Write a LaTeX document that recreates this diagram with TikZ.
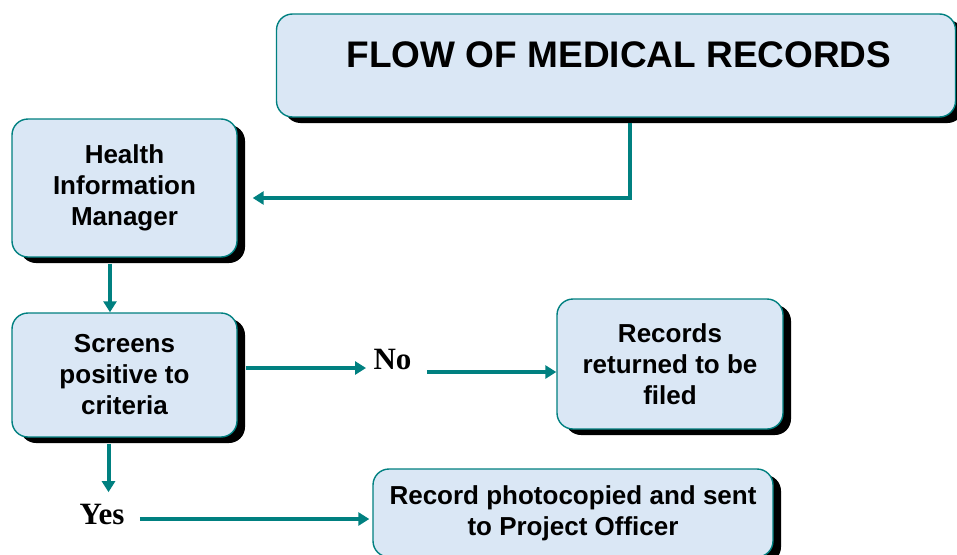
\documentclass[tikz,border=0pt]{standalone}
\usepackage{fontspec}
\setmainfont{Liberation Sans}
\newfontfamily\answerfont{Liberation Serif}
\usetikzlibrary{arrows.meta,shadows}

\definecolor{flowteal}{RGB}{0,128,128}
\definecolor{cardblue}{RGB}{218,231,245}

\tikzset{
  card/.style={draw=flowteal, line width=1.4pt, fill=cardblue, rounded corners=16pt,
    general shadow={fill=black, shadow xshift=8pt, shadow yshift=-6pt},
    align=center, inner sep=0pt, font=\fontsize{26}{31}\selectfont\bfseries},
  link/.style={draw=flowteal, line width=4pt, -{Triangle[length=11pt,width=13pt]}},
  answer/.style={font=\answerfont\fontsize{31}{36}\selectfont\bfseries},
}

\begin{document}
\begin{tikzpicture}[x=1pt,y=-1pt]
  \clip (0,0) rectangle (957,554);

  % boxes
  \node[card, minimum width=679pt, minimum height=103pt] (titlebox) at (616,65.5) {};
  \node[font=\fontsize{37}{44}\selectfont\bfseries] (title) at (619,55) {FLOW OF MEDICAL RECORDS};

  \node[card, minimum width=225pt, minimum height=138pt] (him) at (124.5,188) {Health\\Information\\Manager};
  \node[card, minimum width=225pt, minimum height=124pt] (screen) at (124.5,375) {Screens\\positive to\\criteria};
  \node[card, minimum width=226pt, minimum height=130pt] (filed) at (670,364) {Records\\returned to be\\filed};
  \node[card, minimum width=400pt, minimum height=88pt] (copy) at (573,513) {Record photocopied and sent\\to Project Officer};

  % decisions
  \node[answer] (no) at (392.5,359) {No};
  \node[answer] (yes) at (102,514) {Yes};

  % connectors
  \draw[link] ([shift={(14pt,-5pt)}]titlebox.south) |- ([shift={(15pt,-10pt)}]him.east);
  \draw[link] ([shift={(-14.5pt,-6pt)}]him.south) -- ([xshift=-14.5pt]screen.north);
  \draw[link] ([shift={(8pt,7pt)}]screen.east) -- ([shift={(-4pt,-9pt)}]no.west);
  \draw[link] ([shift={(12pt,-13pt)}]no.east) -- ([yshift=-8pt]filed.west);
  \draw[link] ([shift={(-16pt,-6pt)}]screen.south) -- ([shift={(6.5pt,8pt)}]yes.north);
  \draw[link] ([shift={(12pt,-5pt)}]yes.east) -- ([shift={(-3pt,-6pt)}]copy.west);
\end{tikzpicture}
\end{document}
